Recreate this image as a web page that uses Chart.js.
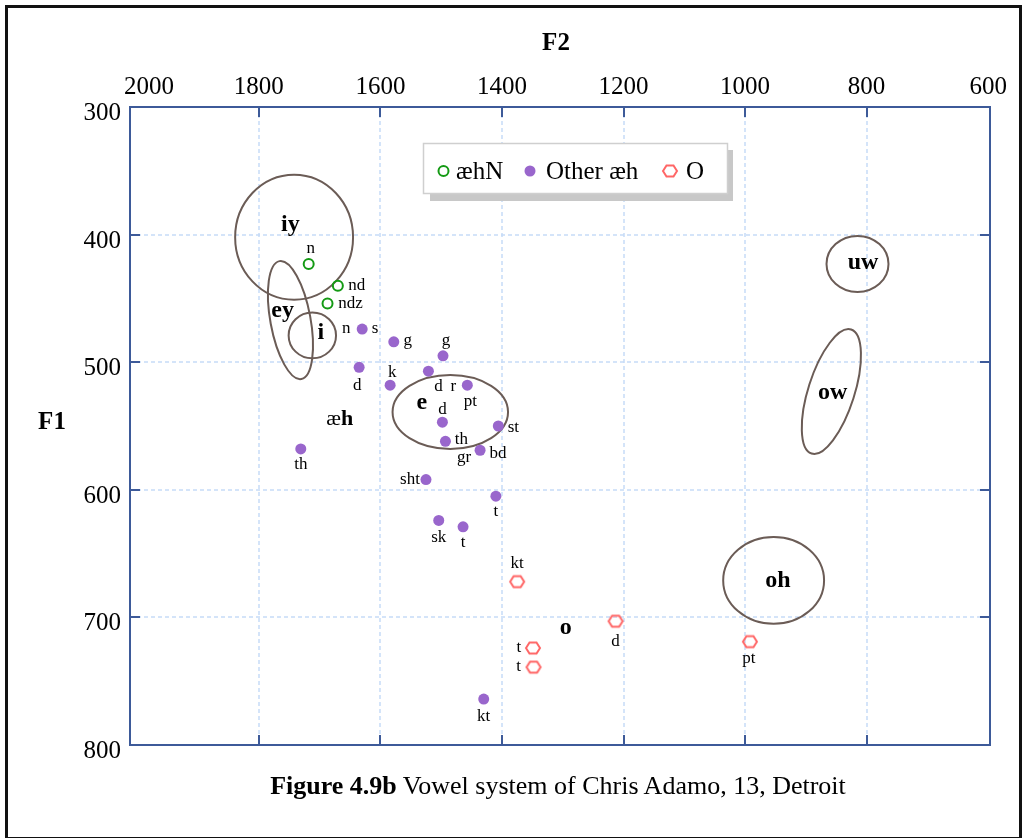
<!DOCTYPE html>
<html>
<head>
<meta charset="utf-8">
<script src="https://cdn.jsdelivr.net/npm/chart.js@4.4.1/dist/chart.umd.min.js"></script>
<style>
  body { margin: 0; background: #fff; font-family: "Liberation Serif", serif; }
  #wrap { position: relative; width: 1028px; height: 838px; overflow: hidden; }
  #frame { position: absolute; left: 5px; top: 5px; width: 1011px; height: 829px; border: 3px solid #111; }
  canvas { position: absolute; left: 0; top: 0; }
  .txt { position: absolute; color: #000; font-size: 25px; white-space: nowrap; transform: translate(-50%, -50%); }
</style>
</head>
<body>
<div id="wrap">
  <div id="frame"></div>
  <canvas id="vowelChart" width="1028" height="838"></canvas>
  <div class="txt" style="left:556px; top:42px; font-weight:bold;">F2</div>
  <div class="txt" style="left:52px; top:421px; font-weight:bold;">F1</div>
  <div class="txt" style="left:558px; top:786px; font-size:26px;"><b>Figure 4.9b</b> Vowel system of Chris Adamo, 13, Detroit</div>
</div>
<script>
const f2Ticks = [2000, 1800, 1600, 1400, 1200, 1000, 800, 600];
const f1Ticks = [300, 400, 500, 600, 700, 800];

// æh before nasals
const aehNF2 = [1718, 1670, 1687];
const aehNF1 = [423, 440, 454];
const aehNTags = [['n'], ['nd'], ['ndz']];

// other æh tokens
const otherF2 = [1630, 1578, 1497, 1635, 1521, 1584, 1457, 1498, 1493, 1406, 1436, 1525, 1410, 1504, 1464, 1430, 1731];
const otherF1 = [474, 484, 495, 504, 507, 518, 518, 547, 562, 550, 569, 592, 605, 624, 629, 764, 568];
const otherTags = [['n', 's'], ['g'], ['g'], ['d'], ['d'], ['k'], ['r', 'pt'], ['d'], ['th'], ['st'], ['gr', 'bd'], ['sht'], ['t'], ['sk'], ['t'], ['kt'], ['th']];

// O tokens
const oF2 = [1375, 1213, 1349, 1348, 992];
const oF1 = [672, 703, 724, 739, 719];
const oTags = [['kt'], ['d'], ['t'], ['t'], ['pt']];

// vowel means with spread
const vowelNames = ['iy', 'ey', 'i', 'e', 'uw', 'ow', 'oh'];
const vowelF2 = [1742, 1748, 1712, 1485, 815, 858, 953];
const vowelF1 = [402, 467, 479, 539, 423, 523, 671];
const vowelSpreadF2 = [97, 33, 39, 95, 51, 38, 83];
const vowelSpreadF1 = [49, 47, 18, 29, 22, 51, 34];
const vowelTilt = [0, -10.5, 0, 0, 0, 17.7, 0];
const vowelLabelF2 = [1748, 1761, 1698, 1532, 806, 856, 946];
const vowelLabelF1 = [392, 460, 477, 532, 422, 524, 671];

// labels without ellipse
const looseNames = ['æh', 'o'];
const looseF2 = [1667, 1295];
const looseF1 = [545, 708];

// where each tag sits relative to its point (px)
const tagOffsets = [
  [[[2, -15]], [[19, 0]], [[23, 0]]],
  [[[-16, 0], [13, 0]], [[14, -1]], [[3, -15]], [[-2, 18]], [[10, 15]], [[2, -13]], [[-14, 1], [3, 16]],
   [[0, -13]], [[16, -2]], [[15, 2]], [[-16, 7], [18, 3]], [[-16, 0]], [[0, 15]], [[0, 17]], [[0, 16]],
   [[0, 17]], [[0, 16]]],
  [[[0, -18]], [[0, 20]], [[-14, 0]], [[-15, -1]], [[-1, 17]]]
];

const serif = '"Liberation Serif", "Times New Roman", serif';
const green = '#149a14';
const purple = '#9966cc';
const red = '#ff6666';

function hexagon(color) {
  const c = document.createElement('canvas');
  c.width = 18;
  c.height = 16;
  const g = c.getContext('2d');
  g.strokeStyle = color;
  g.lineWidth = 2;
  g.beginPath();
  g.moveTo(2, 8);
  g.lineTo(5.5, 2.5);
  g.lineTo(12.5, 2.5);
  g.lineTo(16, 8);
  g.lineTo(12.5, 13.5);
  g.lineTo(5.5, 13.5);
  g.closePath();
  g.stroke();
  return c;
}
const hexImg = hexagon(red);

function toPoints(xs, ys) {
  return xs.map((v, i) => ({ x: v, y: ys[i] }));
}

const allTags = [aehNTags, otherTags, oTags];

const decor = {
  id: 'decor',
  beforeDatasetsDraw(chart) {
    const { ctx, chartArea: a, scales: { x, y } } = chart;
    ctx.save();
    // dashed grid
    ctx.strokeStyle = '#c6dcf7';
    ctx.lineWidth = 1.5;
    ctx.setLineDash([4, 3]);
    f2Ticks.forEach(v => {
      const px = Math.round(x.getPixelForValue(v));
      if (px < a.left + 10 || px > a.right - 4) return;
      ctx.beginPath();
      ctx.moveTo(px, a.top);
      ctx.lineTo(px, a.bottom);
      ctx.stroke();
    });
    f1Ticks.forEach(v => {
      const py = Math.round(y.getPixelForValue(v));
      if (py < a.top + 4 || py > a.bottom - 4) return;
      ctx.beginPath();
      ctx.moveTo(a.left, py);
      ctx.lineTo(a.right, py);
      ctx.stroke();
    });
    ctx.setLineDash([]);
    // vowel ellipses
    ctx.strokeStyle = '#6b5c56';
    ctx.lineWidth = 2;
    vowelNames.forEach((n, i) => {
      const cx = x.getPixelForValue(vowelF2[i]);
      const cy = y.getPixelForValue(vowelF1[i]);
      const rx = Math.abs(x.getPixelForValue(vowelF2[i] + vowelSpreadF2[i]) - cx);
      const ry = Math.abs(y.getPixelForValue(vowelF1[i] + vowelSpreadF1[i]) - cy);
      ctx.beginPath();
      ctx.ellipse(cx, cy, rx, ry, vowelTilt[i] * Math.PI / 180, 0, 2 * Math.PI);
      ctx.stroke();
    });
    ctx.restore();
  },
  afterDatasetsDraw(chart) {
    const { ctx, chartArea: a, scales: { x, y } } = chart;
    ctx.save();
    ctx.fillStyle = '#000';

    // tags next to tokens
    ctx.font = '17px ' + serif;
    ctx.textAlign = 'center';
    ctx.textBaseline = 'middle';
    chart.data.datasets.forEach((ds, d) => {
      const meta = chart.getDatasetMeta(d);
      meta.data.forEach((pt, i) => {
        allTags[d][i].forEach((t, k) => {
          const off = tagOffsets[d][i][k];
          ctx.fillText(t, pt.x + off[0], pt.y + off[1]);
        });
      });
    });

    // vowel names
    ctx.font = 'bold 24px ' + serif;
    vowelNames.forEach((n, i) => {
      ctx.fillText(n, x.getPixelForValue(vowelLabelF2[i]), y.getPixelForValue(vowelLabelF1[i]));
    });
    looseNames.forEach((n, i) => {
      const px = x.getPixelForValue(looseF2[i]);
      const py = y.getPixelForValue(looseF1[i]);
      if (n === 'æh') {
        ctx.font = '22px ' + serif;
        const w1 = ctx.measureText('æ').width;
        ctx.font = 'bold 22px ' + serif;
        const w2 = ctx.measureText('h').width;
        const x0 = px - (w1 + w2) / 2;
        ctx.textAlign = 'left';
        ctx.font = '22px ' + serif;
        ctx.fillText('æ', x0, py);
        ctx.font = 'bold 22px ' + serif;
        ctx.fillText('h', x0 + w1, py);
        ctx.textAlign = 'center';
      } else {
        ctx.font = 'bold 24px ' + serif;
        ctx.fillText(n, px, py);
      }
    });

    // legend box
    ctx.fillStyle = '#c8c8c8';
    ctx.fillRect(430, 150, 303, 51);
    ctx.fillStyle = '#fff';
    ctx.fillRect(423.5, 143.5, 304, 50);
    ctx.strokeStyle = '#cfcfcf';
    ctx.lineWidth = 1.5;
    ctx.strokeRect(423.5, 143.5, 304, 50);
    const legendY = 171;
    ctx.lineWidth = 2;
    ctx.strokeStyle = green;
    ctx.beginPath();
    ctx.arc(443.5, legendY, 5, 0, 2 * Math.PI);
    ctx.stroke();
    ctx.fillStyle = purple;
    ctx.beginPath();
    ctx.arc(530, legendY, 5.5, 0, 2 * Math.PI);
    ctx.fill();
    ctx.drawImage(hexImg, 670 - 9, legendY - 8);
    ctx.fillStyle = '#000';
    ctx.font = '25px ' + serif;
    ctx.textAlign = 'left';
    ctx.textBaseline = 'alphabetic';
    const names = chart.data.datasets.map(ds => ds.label);
    ctx.fillText(names[0], 456, legendY + 8);
    ctx.fillText(names[1], 546, legendY + 8);
    ctx.fillText(names[2], 686, legendY + 8);

    // plot frame and inward ticks
    ctx.strokeStyle = '#3d5a99';
    ctx.lineWidth = 2;
    ctx.strokeRect(a.left, a.top, a.right - a.left, a.bottom - a.top);
    ctx.beginPath();
    f2Ticks.forEach(v => {
      const px = Math.round(x.getPixelForValue(v));
      if (px < a.left + 10 || px > a.right - 4) return;
      ctx.moveTo(px, a.top);
      ctx.lineTo(px, a.top + 10);
      ctx.moveTo(px, a.bottom);
      ctx.lineTo(px, a.bottom - 10);
    });
    f1Ticks.forEach(v => {
      const py = Math.round(y.getPixelForValue(v));
      if (py < a.top + 4 || py > a.bottom - 4) return;
      ctx.moveTo(a.left, py);
      ctx.lineTo(a.left + 10, py);
      ctx.moveTo(a.right, py);
      ctx.lineTo(a.right - 10, py);
    });
    ctx.stroke();

    // tick labels
    ctx.fillStyle = '#000';
    ctx.font = '25px ' + serif;
    ctx.textAlign = 'center';
    ctx.textBaseline = 'alphabetic';
    f2Ticks.forEach(v => {
      const px = Math.max(x.getPixelForValue(v), a.left + 19);
      ctx.fillText(String(v), px, a.top - 13);
    });
    ctx.textAlign = 'right';
    f1Ticks.forEach(v => {
      ctx.fillText(String(v), a.left - 9, y.getPixelForValue(v) + 13);
    });
    ctx.restore();
  }
};

new Chart(document.getElementById('vowelChart').getContext('2d'), {
  type: 'scatter',
  data: {
    datasets: [
      {
        label: 'æhN',
        data: toPoints(aehNF2, aehNF1),
        pointStyle: 'circle',
        pointRadius: 5,
        pointHoverRadius: 5,
        borderColor: green,
        backgroundColor: 'rgba(0,0,0,0)',
        borderWidth: 2
      },
      {
        label: 'Other æh',
        data: toPoints(otherF2, otherF1),
        pointStyle: 'circle',
        pointRadius: 5.5,
        pointHoverRadius: 5.5,
        borderColor: purple,
        backgroundColor: purple,
        borderWidth: 0
      },
      {
        label: 'O',
        data: toPoints(oF2, oF1),
        pointStyle: hexImg,
        pointRadius: 7,
        pointHoverRadius: 7,
        borderColor: red,
        backgroundColor: red
      }
    ]
  },
  options: {
    responsive: false,
    animation: false,
    devicePixelRatio: 1,
    layout: { padding: { left: 0, top: 0, right: 38, bottom: 93 } },
    plugins: {
      legend: { display: false },
      tooltip: { enabled: false }
    },
    scales: {
      x: {
        type: 'linear',
        position: 'top',
        reverse: true,
        min: 597,
        max: 2012,
        grid: { display: false },
        border: { display: false },
        ticks: { display: false },
        afterBuildTicks: s => { s.ticks = f2Ticks.map(v => ({ value: v })); },
        afterFit: s => { s.height = 107; }
      },
      y: {
        type: 'linear',
        position: 'left',
        reverse: true,
        min: 300,
        max: 800,
        grid: { display: false },
        border: { display: false },
        ticks: { display: false },
        afterBuildTicks: s => { s.ticks = f1Ticks.map(v => ({ value: v })); },
        afterFit: s => { s.width = 130; }
      }
    }
  },
  plugins: [decor]
});
</script>
</body>
</html>
